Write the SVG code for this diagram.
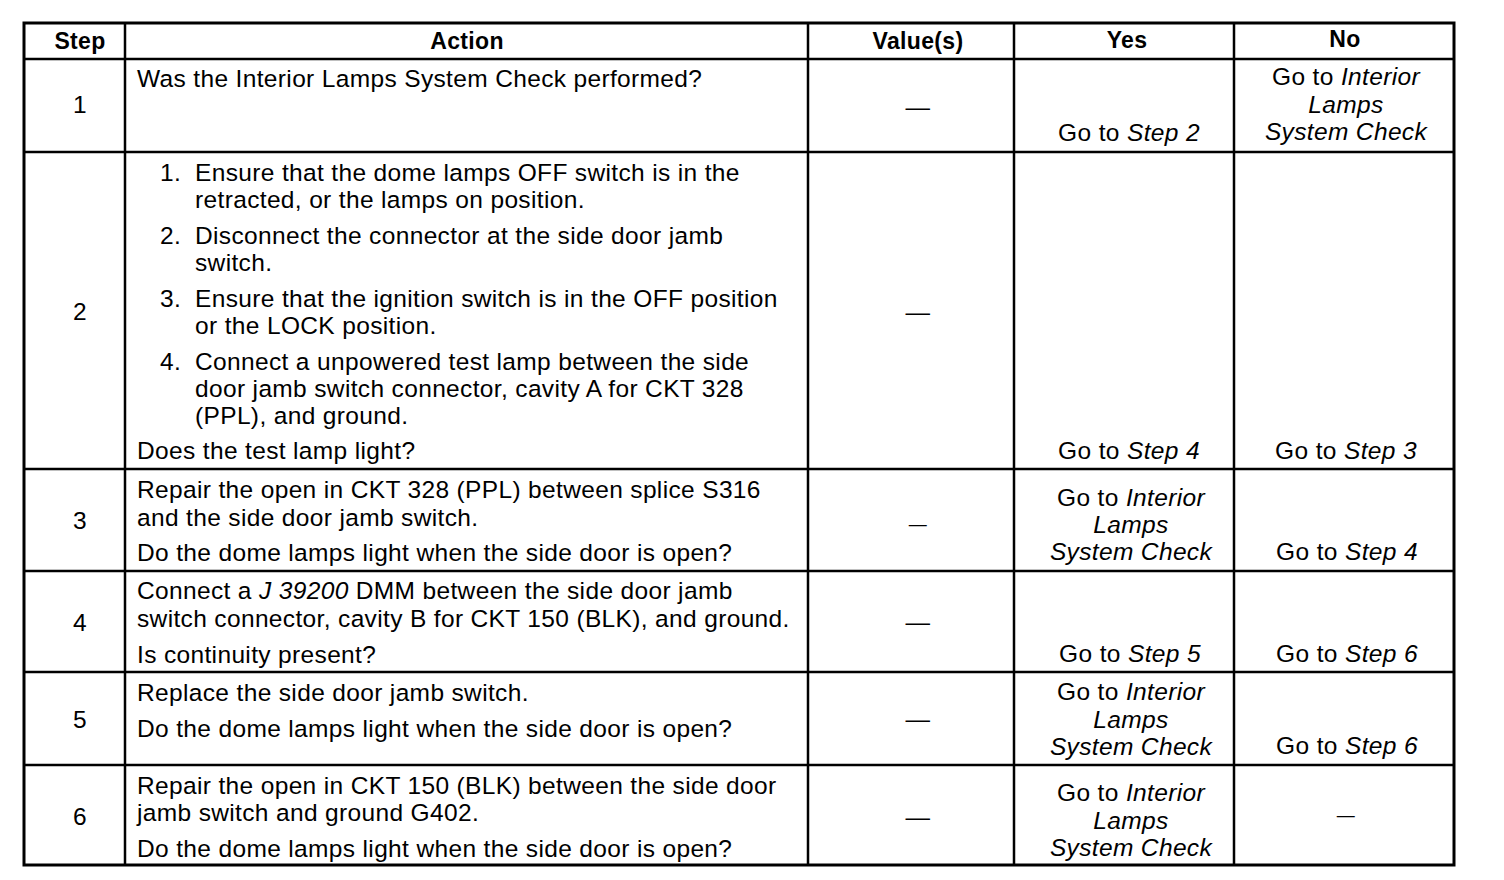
<svg xmlns="http://www.w3.org/2000/svg" width="1504" height="880" viewBox="0 0 1504 880">
<style>
text{font-family:"Liberation Sans",Arial,sans-serif;font-size:24.5px;letter-spacing:0.35px;fill:#000}
.h{font-weight:bold;text-anchor:middle;font-size:23px}
.c{text-anchor:middle}
.i{font-style:italic}
.ln{stroke:#000;stroke-width:2.5;fill:none}
.ob{stroke:#000;stroke-width:3;fill:none}
</style>
<rect width="1504" height="880" fill="#fff"/>
<g id="grid">
<rect class="ob" x="24" y="23" width="1430" height="842"/>
<path class="ln" d="M125 23V865M808 23V865M1014 23V865M1234 23V865"/>
<path class="ln" d="M24 59H1454M24 152H1454M24 469H1454M24 571H1454M24 672H1454M24 765H1454"/>
</g>
<g id="header">
<text class="h" x="80" y="49">Step</text>
<text class="h" x="467" y="49">Action</text>
<text class="h" x="918" y="49">Value(s)</text>
<text class="h" x="1127" y="48">Yes</text>
<text class="h" x="1345" y="47">No</text>
</g>
<g id="row1">
<text class="c" x="80" y="113">1</text>
<text x="137" y="87">Was the Interior Lamps System Check performed?</text>
<text class="c" x="918" y="115">—</text>
<text class="c" x="1129" y="141">Go to <tspan class="i">Step 2</tspan></text>
<text class="c" x="1346" y="85">Go to <tspan class="i">Interior</tspan></text>
<text class="c i" x="1346" y="113">Lamps</text>
<text class="c i" x="1346" y="140">System Check</text>
</g>
<g id="row2">
<text class="c" x="80" y="320">2</text>
<text x="160" y="181">1.</text><text x="195" y="181">Ensure that the dome lamps OFF switch is in the</text>
<text x="195" y="208">retracted, or the lamps on position.</text>
<text x="160" y="244">2.</text><text x="195" y="244">Disconnect the connector at the side door jamb</text>
<text x="195" y="271">switch.</text>
<text x="160" y="307">3.</text><text x="195" y="307">Ensure that the ignition switch is in the OFF position</text>
<text x="195" y="334">or the LOCK position.</text>
<text x="160" y="370">4.</text><text x="195" y="370">Connect a unpowered test lamp between the side</text>
<text x="195" y="397">door jamb switch connector, cavity A for CKT 328</text>
<text x="195" y="424">(PPL), and ground.</text>
<text x="137" y="459">Does the test lamp light?</text>
<text class="c" x="918" y="320">—</text>
<text class="c" x="1129" y="459">Go to <tspan class="i">Step 4</tspan></text>
<text class="c" x="1346" y="459">Go to <tspan class="i">Step 3</tspan></text>
</g>
<g id="row3">
<text class="c" x="80" y="529">3</text>
<text x="137" y="498">Repair the open in CKT 328 (PPL) between splice S316</text>
<text x="137" y="526">and the side door jamb switch.</text>
<text x="137" y="561">Do the dome lamps light when the side door is open?</text>
<text class="c" x="918" y="530" style="font-size:18px">—</text>
<text class="c" x="1131" y="506">Go to <tspan class="i">Interior</tspan></text>
<text class="c i" x="1131" y="533">Lamps</text>
<text class="c i" x="1131" y="560">System Check</text>
<text class="c" x="1347" y="560">Go to <tspan class="i">Step 4</tspan></text>
</g>
<g id="row4">
<text class="c" x="80" y="631">4</text>
<text x="137" y="599">Connect a <tspan class="i">J 39200</tspan> DMM between the side door jamb</text>
<text x="137" y="627">switch connector, cavity B for CKT 150 (BLK), and ground.</text>
<text x="137" y="663">Is continuity present?</text>
<text class="c" x="918" y="630">—</text>
<text class="c" x="1130" y="662">Go to <tspan class="i">Step 5</tspan></text>
<text class="c" x="1347" y="662">Go to <tspan class="i">Step 6</tspan></text>
</g>
<g id="row5">
<text class="c" x="80" y="728">5</text>
<text x="137" y="701">Replace the side door jamb switch.</text>
<text x="137" y="737">Do the dome lamps light when the side door is open?</text>
<text class="c" x="918" y="727">—</text>
<text class="c" x="1131" y="700">Go to <tspan class="i">Interior</tspan></text>
<text class="c i" x="1131" y="728">Lamps</text>
<text class="c i" x="1131" y="755">System Check</text>
<text class="c" x="1347" y="754">Go to <tspan class="i">Step 6</tspan></text>
</g>
<g id="row6">
<text class="c" x="80" y="825">6</text>
<text x="137" y="794">Repair the open in CKT 150 (BLK) between the side door</text>
<text x="137" y="821">jamb switch and ground G402.</text>
<text x="137" y="857">Do the dome lamps light when the side door is open?</text>
<text class="c" x="918" y="825">—</text>
<text class="c" x="1131" y="801">Go to <tspan class="i">Interior</tspan></text>
<text class="c i" x="1131" y="829">Lamps</text>
<text class="c i" x="1131" y="856">System Check</text>
<text class="c" x="1346" y="821" style="font-size:18px">—</text>
</g>
</svg>
